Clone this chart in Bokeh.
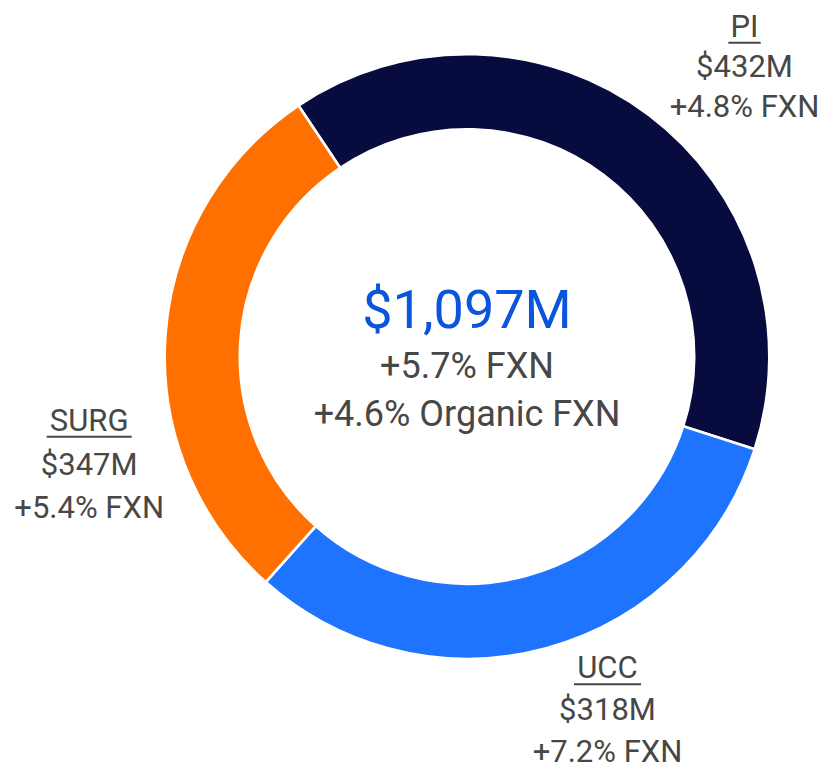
from bokeh.plotting import figure
from bokeh.models import Range1d, ColumnDataSource
from bokeh.core.properties import value
from bokeh.embed import file_html
from bokeh.resources import INLINE
import math

# ---------------- data ----------------
segments = ["PI", "UCC", "SURG"]
sales_labels = ["$432M", "$318M", "$347M"]
growth_labels = ["+4.8% FXN", "+7.2% FXN", "+5.4% FXN"]
# ring arc sizes as drawn in the picture (clockwise from PI: navy, blue, orange)
arc_values = [432, 347, 318]
seg_colors = ["#070B3D", "#1E74FF", "#FF7000"]

total_label = "$1,097M"
total_growth = "+5.7% FXN"
organic_growth = "+4.6% Organic FXN"

# ---------------- layout ----------------
W, H = 822, 767
FONT = value("Roboto")
GRAY = "#474747"
CX, CY = 466.5, H - 356
R_OUT, R_IN = 301.0, 228.5
START_DEG = 123.9
GAP = 2.6
K = 0.36  # baseline correction (fraction of font size)


def Y(img_y):
    return H - img_y


def TY(img_baseline, size):
    return H - img_baseline + K * size


p = figure(width=W, height=H,
           x_range=Range1d(0, W), y_range=Range1d(0, H),
           output_backend="svg", toolbar_location=None,
           min_border=0, outline_line_color=None,
           background_fill_color="white", border_fill_color="white")
p.axis.visible = False
p.grid.visible = False

total = float(sum(arc_values))
starts, ends = [], []
cum = 0.0
for v in arc_values:
    a_start = START_DEG - 360.0 * cum / total
    cum += v
    a_end = START_DEG - 360.0 * cum / total
    starts.append(math.radians(a_end))
    ends.append(math.radians(a_start))

src = ColumnDataSource(dict(x=[CX] * 3, y=[CY] * 3, start=starts, end=ends,
                            color=seg_colors))
p.annular_wedge(x="x", y="y", inner_radius=R_IN - GAP / 2, outer_radius=R_OUT + GAP / 2,
                start_angle="start", end_angle="end", fill_color="color",
                line_color="white", line_width=GAP, source=src)

# center texts
p.text(x=[CX], y=[TY(328.3, 54)], text=[total_label], text_font=FONT, text_font_size="54px",
       text_color="#0A55DB", text_align="center", text_baseline="alphabetic")
p.text(x=[CX], y=[TY(378.7, 36)], text=[total_growth], text_font=FONT, text_font_size="36px",
       text_color=GRAY, text_align="center", text_baseline="alphabetic")
p.text(x=[CX], y=[TY(426.7, 36)], text=[organic_growth], text_font=FONT, text_font_size="36px",
       text_color=GRAY, text_align="center", text_baseline="alphabetic")

# segment labels: anchor x, baselines (name, sales, growth), underline half width
label_x = [744.0, 607.0, 88.7]
label_base = [(36.7, 77.3, 116.7), (678.3, 720.0, 761.7), (430.7, 475.0, 517.7)]
underline_half = [16.2, 33.5, 42.5]
LS = 31

for i in range(3):
    bx = label_x[i]
    b0, b1, b2 = label_base[i]
    p.text(x=[bx], y=[TY(b0, LS)], text=[segments[i]], text_font=FONT, text_font_size=f"{LS}px",
           text_color=GRAY, text_align="center", text_baseline="alphabetic")
    p.segment(x0=[bx - underline_half[i]], x1=[bx + underline_half[i]],
              y0=[Y(b0 + 5.5)], y1=[Y(b0 + 5.5)], line_color=GRAY, line_width=2)
    p.text(x=[bx], y=[TY(b1, LS)], text=[sales_labels[i]], text_font=FONT, text_font_size=f"{LS}px",
           text_color=GRAY, text_align="center", text_baseline="alphabetic")
    p.text(x=[bx], y=[TY(b2, LS)], text=[growth_labels[i]], text_font=FONT, text_font_size=f"{LS}px",
           text_color=GRAY, text_align="center", text_baseline="alphabetic")

open("out.html", "w").write(file_html(p, INLINE))
